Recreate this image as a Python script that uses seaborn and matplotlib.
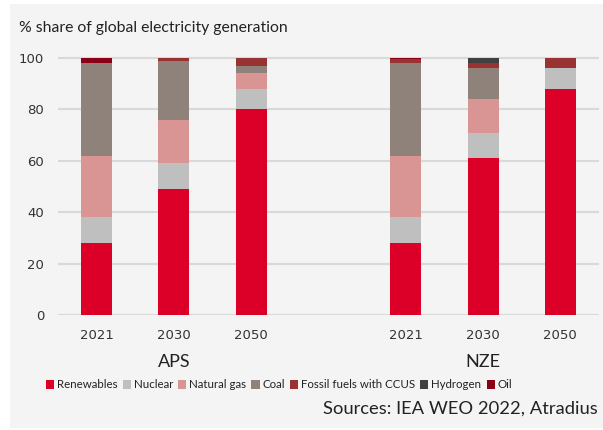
import matplotlib
matplotlib.use("Agg")
import matplotlib.pyplot as plt
import matplotlib.transforms as mtransforms
from matplotlib.patches import Rectangle
import numpy as np
import pandas as pd
import seaborn as sns

# Scenario bars (scenario, year)
scenarios = ["APS", "APS", "APS", "NZE", "NZE", "NZE"]
years = ["2021", "2030", "2050", "2021", "2030", "2050"]

# Share of global electricity generation, % (bottom to top of each bar)
sources = ["Renewables", "Nuclear", "Natural gas", "Coal",
           "Fossil fuels with CCUS", "Hydrogen", "Oil"]
renewables = [28, 49, 80, 28, 61, 88]
nuclear = [10, 10, 8, 10, 10, 8]
natural_gas = [24, 17, 6, 24, 13, 0]
coal = [36, 23, 3, 36, 12, 0]
ccus = [0, 1, 3, 1.6, 2, 4]
hydrogen = [0, 0, 0, 0, 2, 0]
oil = [2, 0, 0, 0.4, 0, 0]

colors = ["#dc0028", "#bfbfbf", "#d99594", "#8f827b",
          "#993333", "#404040", "#8b0017"]

series = [renewables, nuclear, natural_gas, coal, ccus, hydrogen, oil]

bar_ids = [f"{s} {y}" for s, y in zip(scenarios, years)]
order = bar_ids[:3] + [" "] + bar_ids[3:]

rows = []
for name, vals in zip(sources, series):
    for b, v in zip(bar_ids, vals):
        rows.append({"bar": b, "source": name, "value": v})
df = pd.DataFrame(rows)
df["source"] = pd.Categorical(df["source"], categories=sources, ordered=True)
df = df.sort_values(["bar", "source"])
df["top"] = df.groupby("bar")["value"].cumsum()

sns.set_theme(style="white")
plt.rcParams["font.family"] = ["DejaVu Sans"]

fig = plt.figure(figsize=(6.03, 4.30), dpi=100, facecolor="white")
panel = Rectangle((10 / 603, 2 / 430), 1 - 10 / 603, 1 - 6 / 430,
                  transform=fig.transFigure, facecolor="#f4f4f4",
                  edgecolor="none", zorder=-10)
fig.patches.append(panel)

ax = fig.add_axes([58 / 603, 1 - 315 / 430, (599 - 58) / 603, 259.6 / 430])
ax.set_facecolor("#f4f4f4")

# Stack by overlaying cumulative totals, top layer first
for name, col in reversed(list(zip(sources, colors))):
    sub = df[df["source"] == name]
    sns.barplot(data=sub, x="bar", y="top", order=order, color=col,
                width=0.4, linewidth=0, saturation=1, ax=ax, zorder=3)

ax.set_ylim(0, 101)
ax.set_xlim(-0.5, 6.5)
ax.set_yticks([0, 20, 40, 60, 80, 100])
ax.yaxis.grid(True, color="#d9d9d9", linewidth=1.5, zorder=0)
ax.xaxis.grid(False)
for sp in ax.spines.values():
    sp.set_visible(False)
ax.set_xlabel("")
ax.set_ylabel("")

ax.set_xticks([0, 1, 2, 4, 5, 6])
ax.set_xticklabels(years)
ax.tick_params(axis="x", length=0, pad=10, labelsize=9.5, labelcolor="#333333")
ax.tick_params(axis="y", length=0, pad=10, labelsize=9.5, labelcolor="#333333")

trans = mtransforms.blended_transform_factory(ax.transData, ax.transAxes)
ax.text(1, -0.18, "APS", transform=trans, ha="center", va="center",
        fontsize=13, color="#222222", family=["Lato", "DejaVu Sans"])
ax.text(5, -0.18, "NZE", transform=trans, ha="center", va="center",
        fontsize=13, color="#222222", family=["Lato", "DejaVu Sans"])

fig.text(19 / 603, 1 - 28 / 430, "% share of global electricity generation",
         ha="left", va="center", fontsize=11.3, color="#222222",
         family=["Lato", "DejaVu Sans"])

handles = [Rectangle((0, 0), 1, 1, facecolor=c, edgecolor="none") for c in colors]
fig.legend(handles, sources, loc="center", bbox_to_anchor=(279 / 603, 1 - 385 / 430),
           ncol=7, frameon=False, handlelength=0.7, handleheight=0.7,
           handletextpad=0.25, columnspacing=0.45, labelcolor="#222222",
           prop={"family": ["Lato", "DejaVu Sans"], "size": 8.3})

fig.text(598 / 603, 1 - 409 / 430, "Sources: IEA WEO 2022, Atradius",
         ha="right", va="center", fontsize=13.2, color="#222222",
         family=["Lato", "DejaVu Sans"])

fig.savefig("out.png", dpi=100, facecolor="white")
